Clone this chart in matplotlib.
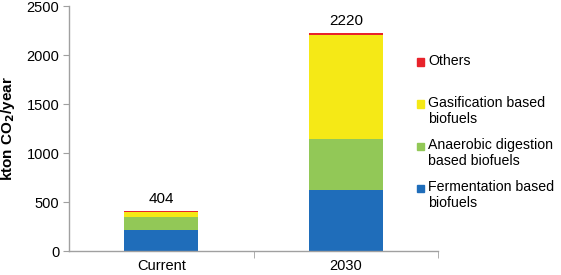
import numpy as np
import matplotlib
matplotlib.use("Agg")
import matplotlib.pyplot as plt
from matplotlib.patches import Rectangle

plt.rcParams['font.family'] = ['Liberation Sans', 'DejaVu Sans']

categories = ["Current", "2030"]
fermentation = [220, 620]
anaerobic = [130, 520]
gasification = [45, 1065]
others = [9, 15]
totals = [404, 2220]

series_labels = ["Fermentation based\nbiofuels",
                 "Anaerobic digestion\nbased biofuels",
                 "Gasification based\nbiofuels",
                 "Others"]
series_colors = ["#1f6dba", "#92c857", "#f5e916", "#e8232b"]

fig = plt.figure(figsize=(5.61, 2.75), dpi=100)
ax = fig.add_axes([0.123, 0.087, 0.658, 0.891])

x = np.arange(len(categories))
bottom = np.zeros(len(categories))
for vals, col in zip([fermentation, anaerobic, gasification, others], series_colors):
    ax.bar(x, vals, width=0.4, bottom=bottom, color=col, edgecolor='none')
    bottom += np.array(vals)

for xi, tot in zip(x, totals):
    ax.annotate(str(tot), (xi, tot), xytext=(0, 4), textcoords='offset points',
                ha='center', va='bottom', fontsize=11)

ax.set_xlim(-0.5, 1.5)
ax.set_ylim(0, 2500)
ax.set_yticks(np.arange(0, 2501, 500))
ax.set_xticks(x)
ax.set_xticklabels(categories)
ax.set_xticks([0.5, 1.5], minor=True)
ax.tick_params(axis='x', which='major', length=0, pad=6, labelsize=10.5)
ax.tick_params(axis='x', which='minor', length=5, color='#a0a0a0', direction='out')
ax.tick_params(axis='y', length=4, color='#a0a0a0', labelsize=10.5, pad=3)

for s in ['top', 'right']:
    ax.spines[s].set_visible(False)
for s in ['left', 'bottom']:
    ax.spines[s].set_color('#a0a0a0')
    ax.spines[s].set_linewidth(1)

ax.set_ylabel("kton CO$_\\mathbf{2}$/year", fontsize=11, fontweight='bold', labelpad=7)

# legend drawn by hand so markers sit on first text line
W, H = 561.0, 275.0
legend_rows = [(62, "Others", series_colors[3]),
               (104, series_labels[2], series_colors[2]),
               (146, series_labels[1], series_colors[1]),
               (188, series_labels[0], series_colors[0])]
for ypix, label, col in legend_rows:
    fig.patches.append(Rectangle(((417) / W, 1 - (ypix + 3.5) / H), 7 / W, 7 / H,
                                 transform=fig.transFigure, color=col))
    fig.text(428 / W, 1 - (ypix - 8) / H, label, fontsize=10.2, ha='left', va='top',
             linespacing=1.2)

fig.savefig("out.png", dpi=100)
